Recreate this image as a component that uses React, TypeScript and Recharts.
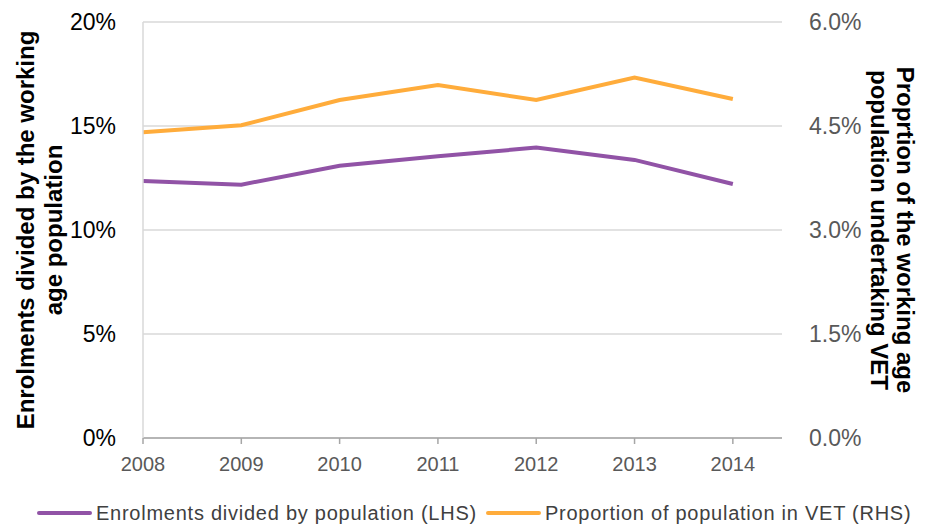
import { CartesianGrid, Label, Legend, Line, LineChart, XAxis, YAxis } from "recharts"

const years = [2008, 2009, 2010, 2011, 2012, 2013, 2014]
const enrolments = [12.36, 12.18, 13.09, 13.55, 13.96, 13.37, 12.21]
const vetShare = [4.41, 4.51, 4.875, 5.09, 4.875, 5.2, 4.89]
const leftTicks = [0, 5, 10, 15, 20]
const rightTicks = [0, 1.5, 3, 4.5, 6]

const data = years.map((year, i) => ({
  year,
  enrolments: enrolments[i],
  vet: vetShare[i],
}))

const PURPLE = "#9153a6"
const ORANGE = "#ffac3b"
const FONT = "'Liberation Sans', Arial, sans-serif"

const legendItems = [
  { label: "Enrolments divided by population (LHS)", color: PURPLE },
  { label: "Proportion of population in VET (RHS)", color: ORANGE },
]

const LegendContent = () => (
  <div
    style={{
      display: "flex",
      alignItems: "center",
      height: 24,
      paddingLeft: 37,
      fontFamily: FONT,
      fontSize: 20,
      color: "#404040",
      letterSpacing: 0.75,
      whiteSpace: "nowrap",
    }}
  >
    {legendItems.map((item) => (
      <div key={item.label} style={{ display: "flex", alignItems: "center", marginRight: 9 }}>
        <span
          style={{
            display: "inline-block",
            width: 55,
            height: 4,
            borderRadius: 2,
            background: item.color,
            marginRight: 4,
          }}
        />
        {item.label}
      </div>
    ))}
  </div>
)

const leftTitle = ({ viewBox }: any) => {
  const cy = viewBox.y + viewBox.height / 2
  return (
    <text
      transform={`translate(36, ${cy}) rotate(-90)`}
      textAnchor="middle"
      fontFamily={FONT}
      fontWeight="bold"
      fontSize={24}
      fill="#000"
    >
      <tspan x={0} dy={-2}>Enrolments divided by the working</tspan>
      <tspan x={0} dy={28}>age population</tspan>
    </text>
  )
}

const rightTitle = ({ viewBox }: any) => {
  const cy = viewBox.y + viewBox.height / 2
  return (
    <text
      transform={`translate(891, ${cy}) rotate(90)`}
      textAnchor="middle"
      fontFamily={FONT}
      fontWeight="bold"
      fontSize={24}
      fill="#000"
    >
      <tspan x={0} dy={-6}>Proprtion of the working age</tspan>
      <tspan x={0} dy={26}>population undertaking VET</tspan>
    </text>
  )
}

export default function App() {
  return (
    <div style={{ position: "absolute", left: 0, top: 0, width: 925, height: 525, background: "#fff" }}>
      <LineChart width={925} height={525} data={data} margin={{ top: 22, right: 0, left: 0, bottom: 0 }}>
        <CartesianGrid vertical={false} stroke="#d9d9d9" strokeWidth={1.5} yAxisId="left" />
        <XAxis
          dataKey="year"
          type="number"
          domain={[2008, 2014.5]}
          ticks={years}
          height={63}
          axisLine={{ stroke: "#a6a6a6", strokeWidth: 1.5 }}
          tickLine={{ stroke: "#a6a6a6", strokeWidth: 1.5 }}
          tickSize={6}
          tickMargin={13}
          tick={{ fill: "#595959", fontSize: 20, fontFamily: FONT }}
        />
        <YAxis
          yAxisId="left"
          width={143}
          domain={[0, 20]}
          ticks={leftTicks}
          tickFormatter={(v) => `${v}%`}
          axisLine={{ stroke: "#d9d9d9", strokeWidth: 1.5 }}
          tickLine={false}
          tickMargin={21}
          tick={{ fill: "#000", fontSize: 23, fontFamily: FONT }}
        >
          <Label content={leftTitle} />
        </YAxis>
        <YAxis
          yAxisId="right"
          orientation="right"
          width={143}
          domain={[0, 6]}
          ticks={rightTicks}
          tickFormatter={(v) => `${Number(v).toFixed(1)}%`}
          axisLine={false}
          tickLine={false}
          tickMargin={21}
          tick={{ fill: "#595959", fontSize: 23, fontFamily: FONT }}
        >
          <Label content={rightTitle} />
        </YAxis>
        <Legend verticalAlign="bottom" height={24} content={LegendContent} />
        <Line
          yAxisId="left"
          dataKey="enrolments"
          type="linear"
          stroke={PURPLE}
          strokeWidth={4}
          dot={false}
          activeDot={false}
          isAnimationActive={false}
        />
        <Line
          yAxisId="right"
          dataKey="vet"
          type="linear"
          stroke={ORANGE}
          strokeWidth={4}
          dot={false}
          activeDot={false}
          isAnimationActive={false}
        />
      </LineChart>
    </div>
  )
}
